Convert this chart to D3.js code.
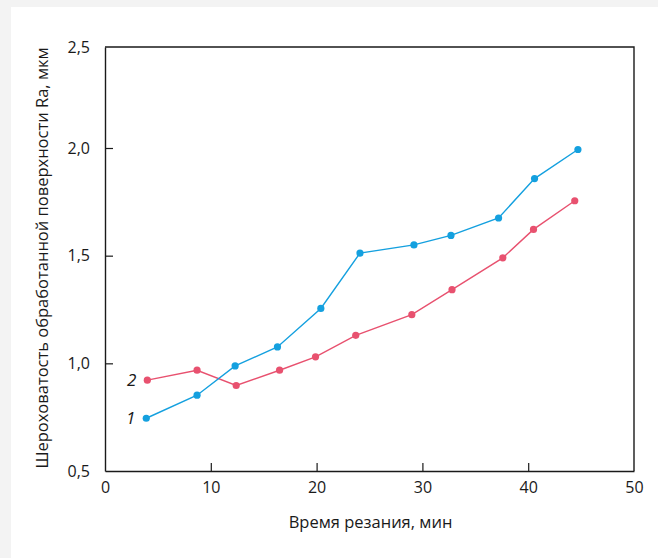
<!DOCTYPE html>
<html>
<head>
<meta charset="utf-8">
<script src="https://cdn.jsdelivr.net/npm/d3@7"></script>
<style>
  html, body { margin: 0; padding: 0; background: #f3f3f3; }
  #chart { position: absolute; left: 11px; top: 7px; width: 647px; height: 551px; background: #fff; }
  svg { position: absolute; left: 0; top: 0; }
</style>
</head>
<body>
<div id="chart"></div>
<script>
// time, min
const timeBlue = [3.9, 8.7, 12.3, 16.3, 20.4, 24.1, 29.2, 32.7, 37.2, 40.6, 44.7];
const raBlue = [0.745, 0.852, 0.988, 1.076, 1.255, 1.512, 1.55, 1.594, 1.675, 1.858, 1.993];
const timeRed = [4.0, 8.7, 12.4, 16.5, 19.9, 23.7, 29.0, 32.8, 37.6, 40.5, 44.4];
const raRed = [0.922, 0.968, 0.897, 0.968, 1.03, 1.13, 1.226, 1.342, 1.49, 1.622, 1.755];

const xTicks = [0, 10, 20, 30, 40, 50];
const yTicks = [0.5, 1.0, 1.5, 2.0, 2.5];
const xTitle = 'Время резания, мин';
const yTitle = 'Шероховатость обработанной поверхности Ra, мкм';

drawChart();

function drawChart() {
    const width = 658, height = 558;
    const svg = d3.select('body').append('svg')
        .attr('width', width)
        .attr('height', height);

    const font = '"Open Sans", "Noto Sans", sans-serif';
    const ink = '#1a1a1a';

    const x = d3.scaleLinear().domain([0, 50]).range([105, 634]);
    // top of the frame sits a little lower than an even step would put it
    const y = d3.scaleLinear().domain([0.5, 2.0, 2.5]).range([471, 148, 47]);

    const fmt = d => d3.format('.1f')(d).replace('.', ',');

    // frame (top + right)
    svg.append('path')
        .attr('d', `M${x(0)},${y(2.5)}H${x(50)}V${y(0.5)}`)
        .attr('fill', 'none')
        .attr('stroke', ink)
        .attr('stroke-width', 1.4);

    // bottom axis, ticks pointing inward
    const xAxis = svg.append('g')
        .attr('transform', `translate(0,${y(0.5)})`)
        .call(d3.axisBottom(x).tickValues(xTicks).tickSize(0).tickPadding(11).tickFormat(d3.format('d')));
    xAxis.select('.domain').attr('stroke', ink).attr('stroke-width', 1.4);
    xAxis.selectAll('.tick text').attr('font-family', font).attr('font-size', 16).attr('fill', ink);
    xAxis.selectAll('.tick')
        .filter(d => d > 0 && d < 50)
        .append('line').attr('y2', -8).attr('stroke', ink).attr('stroke-width', 1.2);

    // left axis
    const yAxis = svg.append('g')
        .attr('transform', `translate(${x(0)},0)`)
        .call(d3.axisLeft(y).tickValues(yTicks).tickSize(0).tickPadding(15).tickFormat(fmt));
    yAxis.select('.domain').attr('stroke', ink).attr('stroke-width', 1.4);
    yAxis.selectAll('.tick text').attr('font-family', font).attr('font-size', 16).attr('fill', ink);
    yAxis.selectAll('.tick')
        .filter(d => d > 0.5 && d < 2.5)
        .append('line').attr('x2', 8).attr('stroke', ink).attr('stroke-width', 1.2);

    // axis titles
    svg.append('text')
        .attr('x', (x(0) + x(50)) / 2 + 1)
        .attr('y', 528)
        .attr('text-anchor', 'middle')
        .attr('font-family', font).attr('font-size', 16.5).attr('fill', ink)
        .text(xTitle);

    svg.append('text')
        .attr('transform', `translate(48,${(y(0.5) + y(2.5)) / 2 - 1}) rotate(-90)`)
        .attr('text-anchor', 'middle')
        .attr('font-family', font).attr('font-size', 16.5).attr('fill', ink)
        .text(yTitle);

    const line = d3.line().x(d => x(d[0])).y(d => y(d[1]));

    const series = [
        { t: timeRed, v: raRed, color: '#e8516f', label: '2' },
        { t: timeBlue, v: raBlue, color: '#14a0df', label: '1' }
    ];

    series.forEach(s => {
        const pts = s.t.map((t, i) => [t, s.v[i]]);
        svg.append('path')
            .datum(pts)
            .attr('d', line)
            .attr('fill', 'none')
            .attr('stroke', s.color)
            .attr('stroke-width', 1.4);
        svg.append('g').selectAll('circle')
            .data(pts)
            .join('circle')
            .attr('cx', d => x(d[0]))
            .attr('cy', d => y(d[1]))
            .attr('r', 3.6)
            .attr('fill', s.color);
        svg.append('text')
            .attr('x', x(pts[0][0]) - 11)
            .attr('y', y(pts[0][1]) + 6)
            .attr('text-anchor', 'end')
            .attr('font-family', font).attr('font-size', 17).attr('font-style', 'italic')
            .attr('fill', ink)
            .text(s.label);
    });
}
</script>
</body>
</html>
